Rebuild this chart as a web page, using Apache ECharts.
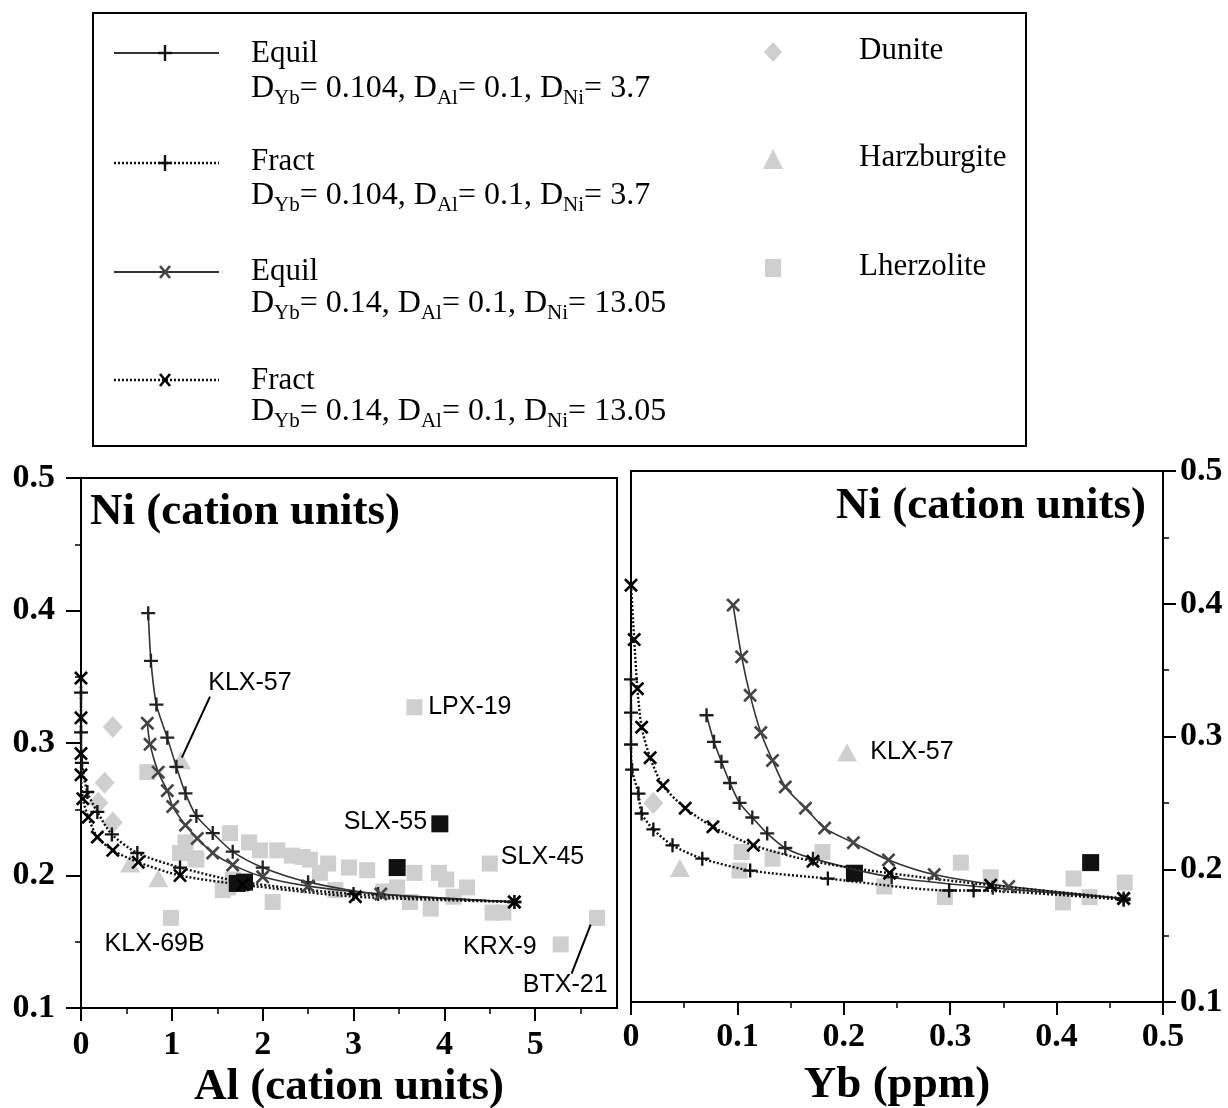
<!DOCTYPE html>
<html><head><meta charset="utf-8">
<script src="https://cdn.jsdelivr.net/npm/echarts@6/dist/echarts.min.js"></script>
<style>html,body{margin:0;padding:0;background:#fff}#c{width:1228px;height:1108px}</style>
</head><body><div id="c"></div>
<script>
// ---------------- DATA ----------------
const alTicks = [0, 1, 2, 3, 4, 5];
const ybTicks = [0, 0.1, 0.2, 0.3, 0.4, 0.5];
const niTicks = [0.1, 0.2, 0.3, 0.4, 0.5];

// Left panel: Al (cation units) vs Ni (cation units) model curves
const alEquilPlus = [[0.74,0.398],[0.77,0.362],[0.83,0.329],[0.95,0.304],[1.05,0.282],[1.15,0.262],[1.27,0.245],[1.45,0.232],[1.67,0.218],[2.0,0.206],[2.5,0.195],[3.27,0.186],[4.77,0.180]];
const alEquilCross = [[0.73,0.315],[0.76,0.299],[0.85,0.278],[0.95,0.264],[1.01,0.252],[1.15,0.238],[1.28,0.228],[1.45,0.217],[1.67,0.208],[2.0,0.199],[2.5,0.192],[3.3,0.186],[4.77,0.180]];
const alFractPlus = [[0.0,0.338],[0.0,0.308],[0.01,0.285],[0.07,0.263],[0.18,0.248],[0.34,0.231],[0.62,0.217],[1.09,0.206],[1.78,0.195],[3.0,0.186],[4.77,0.180]];
const alFractCross = [[0.0,0.349],[0.0,0.319],[0.0,0.292],[0.0,0.276],[0.02,0.258],[0.08,0.244],[0.18,0.229],[0.35,0.219],[0.63,0.210],[1.09,0.200],[1.78,0.193],[3.02,0.184],[4.77,0.180]];

// Right panel: Yb (ppm) vs Ni model curves
const ybEquilPlus = [[0.071,0.316],[0.078,0.296],[0.085,0.281],[0.093,0.265],[0.102,0.250],[0.114,0.239],[0.128,0.227],[0.145,0.216],[0.171,0.208],[0.245,0.194],[0.34,0.186],[0.463,0.178]];
const ybEquilCross = [[0.096,0.399],[0.104,0.360],[0.112,0.331],[0.122,0.303],[0.133,0.282],[0.145,0.262],[0.164,0.246],[0.182,0.231],[0.209,0.220],[0.242,0.207],[0.285,0.196],[0.355,0.187],[0.463,0.178]];
const ybFractPlus = [[0.0,0.343],[0.0,0.318],[0.0,0.294],[0.001,0.275],[0.007,0.257],[0.010,0.242],[0.021,0.230],[0.039,0.218],[0.067,0.208],[0.112,0.199],[0.185,0.193],[0.299,0.184],[0.322,0.184],[0.463,0.177]];
const ybFractCross = [[0.0,0.414],[0.003,0.373],[0.006,0.336],[0.010,0.307],[0.018,0.284],[0.030,0.263],[0.051,0.246],[0.077,0.232],[0.115,0.218],[0.171,0.206],[0.243,0.197],[0.338,0.188],[0.463,0.178]];

// Samples, left panel
const alDunite = [[0.35,0.312],[0.26,0.270],[0.19,0.255],[0.35,0.240]];
const alHarzburgite = [[0.85,0.198],[0.54,0.209],[1.10,0.287]];
const alLherzolite = [[0.73,0.278],[1.15,0.225],[1.26,0.213],[1.09,0.217],[1.64,0.232],[1.67,0.197],[1.56,0.189],[2.11,0.180],[2.16,0.219],[2.44,0.214],[2.63,0.202],[1.85,0.225],[1.97,0.219],[2.32,0.215],[2.52,0.212],[2.72,0.209],[2.95,0.206],[3.15,0.204],[3.67,0.202],[3.94,0.202],[4.02,0.197],[4.25,0.191],[3.85,0.175],[3.62,0.180],[4.53,0.172],[4.65,0.172],[1.62,0.191],[1.27,0.212],[2.80,0.189],[3.33,0.188],[3.48,0.191],[4.10,0.184],[3.67,0.327],[4.50,0.209],[0.99,0.168],[5.28,0.148],[5.68,0.168]];
const alBlack = [[1.72,0.194],[1.80,0.195],[3.48,0.206],[3.95,0.239]];

// Samples, right panel
const ybDunite = [[0.021,0.250]];
const ybHarzburgite = [[0.046,0.201],[0.203,0.288]];
const ybLherzolite = [[0.104,0.213],[0.102,0.199],[0.133,0.208],[0.180,0.213],[0.310,0.205],[0.338,0.194],[0.416,0.193],[0.406,0.175],[0.431,0.179],[0.464,0.190],[0.238,0.187],[0.295,0.179]];
const ybBlack = [[0.210,0.197],[0.432,0.205]];

// Sample labels
const alLabels = [['KLX-57',1.86,0.345],['LPX-19',4.28,0.327],['SLX-55',3.35,0.240],['SLX-45',5.08,0.214],['KLX-69B',0.81,0.148],['KRX-9',4.61,0.146],['BTX-21',5.33,0.117]];
const alLeaders = [[[1.42,0.335],[1.11,0.289]],[[5.61,0.163],[5.40,0.126]]];
const ybLabels = [['KLX-57',0.264,0.288]];

// ---------------- STYLE ----------------
const SERIF = '"Liberation Serif","Times New Roman",serif';
const SANS = '"Liberation Sans",Arial,sans-serif';
const GRAY = '#cfcfcf';
const PLUS = 'path://M5,0h2v5h5v2h-5v5h-2v-5h-5v-2h5z';
const CROSS = 'path://M0,1.6L1.6,0L6,4.4L10.4,0L12,1.6L7.6,6L12,10.4L10.4,12L6,7.6L1.6,12L0,10.4L4.4,6Z';

function xAxisCfg(grid, max, interval, ticks, name, margin, gap) {
  return {
    gridIndex: grid, type: 'value', min: 0, max: max, interval: interval,
    axisLine: {show: true, onZero: false, lineStyle: {color: '#000', width: 2}},
    axisTick: {show: true, inside: false, length: 13, customValues: ticks, lineStyle: {color: '#000', width: 2}},
    minorTick: {show: true, splitNumber: 2, length: 6, lineStyle: {color: '#000', width: 1.5}},
    splitLine: {show: false},
    axisLabel: {margin: margin, customValues: ticks, fontFamily: SERIF, fontWeight: 'bold', fontSize: 34, color: '#000'},
    name: name, nameLocation: 'middle', nameGap: gap, nameMoveOverlap: false,
    nameTextStyle: {fontFamily: SERIF, fontWeight: 'bold', fontSize: 45, color: '#000'}
  };
}
function yAxisCfg(grid, pos, margin, tlen) {
  return {
    gridIndex: grid, type: 'value', min: 0.1, max: 0.5, interval: 0.1, position: pos,
    axisLine: {show: true, onZero: false, lineStyle: {color: '#000', width: 2}},
    axisTick: {show: true, inside: false, length: tlen, lineStyle: {color: '#000', width: 2}},
    minorTick: {show: true, splitNumber: 2, length: 6, lineStyle: {color: '#000', width: 1.5}},
    splitLine: {show: false},
    axisLabel: {margin: margin, fontFamily: SERIF, fontWeight: 'bold', fontSize: 34, color: '#000',
      formatter: v => v.toFixed(1)}
  };
}

function lineSeries(g, data, symbol, dotted, color) {
  return {
    type: 'line', xAxisIndex: g, yAxisIndex: g, data: data,
    symbol: symbol, symbolSize: 14, showAllSymbol: true, smooth: 0.25,
    itemStyle: {color: color, opacity: 1},
    lineStyle: dotted ? {color: '#111', width: 2.4, type: [2, 2]} : {color: '#333', width: 1.6},
    z: 5, silent: true, animation: false
  };
}
function scatterSeries(g, data, symbol, size, color, z) {
  return {type: 'scatter', xAxisIndex: g, yAxisIndex: g, data: data, symbol: symbol, symbolSize: size,
    itemStyle: {color: color, opacity: 1}, z: z, silent: true};
}
function labelSeries(g, labels) {
  return {type: 'scatter', xAxisIndex: g, yAxisIndex: g, symbol: 'circle', symbolSize: 2, z: 8, silent: true,
    itemStyle: {color: 'rgba(0,0,0,0)'},
    data: labels.map(l => ({value: [l[1], l[2]], name: l[0]})),
    label: {show: true, position: 'inside', formatter: p => p.name, fontFamily: SANS, fontSize: 25, color: '#000', opacity: 1}};
}

// ---------------- LEGEND (graphic) ----------------
const G = [];
G.push({type: 'rect', shape: {x: 93, y: 13, width: 933, height: 433}, style: {fill: '#fff', stroke: '#000', lineWidth: 2}, z: 1});
function legLine(y, dotted) {
  G.push({type: 'line', shape: {x1: 114, y1: y, x2: 219, y2: y}, style: {stroke: dotted ? '#111' : '#333', lineWidth: dotted ? 2.4 : 1.8, lineDash: dotted ? [2, 2] : null}, z: 2});
}
function legPlus(y) {
  G.push({type: 'line', shape: {x1: 158, y1: y, x2: 172, y2: y}, style: {stroke: '#111', lineWidth: 2.4}, z: 3});
  G.push({type: 'line', shape: {x1: 165, y1: y - 8, x2: 165, y2: y + 8}, style: {stroke: '#111', lineWidth: 2.4}, z: 3});
}
function legCross(y, color) {
  G.push({type: 'line', shape: {x1: 160, y1: y - 6, x2: 170, y2: y + 6}, style: {stroke: color, lineWidth: 2.6}, z: 3});
  G.push({type: 'line', shape: {x1: 170, y1: y - 6, x2: 160, y2: y + 6}, style: {stroke: color, lineWidth: 2.6}, z: 3});
}
function legText(x, y, txt, rich) {
  const el = {type: 'text', x: x, y: y, z: 3, style: {text: txt, fill: '#000', font: '31px ' + SERIF,
    textVerticalAlign: 'middle', verticalAlign: 'middle', textAlign: 'left', align: 'left'}};
  if (rich) el.style.rich = rich;
  G.push(el);
}
const RICH = {
  m: {fontFamily: SERIF, fontSize: 32, lineHeight: 40, color: '#000'},
  s: {fontFamily: SERIF, fontSize: 21, lineHeight: 18, verticalAlign: 'bottom', color: '#000'}
};
function dLine(dyb, dal, dni) {
  return '{m|D}{s|Yb}{m|= ' + dyb + ', D}{s|Al}{m|= ' + dal + ', D}{s|Ni}{m|= ' + dni + '}';
}
const legendRows = [
  {y: 54, dy: 89, ly: 53, title: 'Equil', dotted: false, mark: 'plus', d: ['0.104', '0.1', '3.7']},
  {y: 162, dy: 196, ly: 163, title: 'Fract', dotted: true, mark: 'plus', d: ['0.104', '0.1', '3.7']},
  {y: 272, dy: 304, ly: 272, title: 'Equil', dotted: false, mark: 'cross', d: ['0.14', '0.1', '13.05']},
  {y: 381, dy: 412, ly: 380, title: 'Fract', dotted: true, mark: 'cross', d: ['0.14', '0.1', '13.05']}
];
legendRows.forEach(r => {
  legLine(r.ly, r.dotted);
  if (r.mark === 'plus') legPlus(r.ly); else legCross(r.ly, r.dotted ? '#000' : '#444');
  legText(251, r.y, r.title);
  legText(251, r.dy, dLine(r.d[0], r.d[1], r.d[2]), RICH);
});
G.push({type: 'polygon', shape: {points: [[773, 42], [782, 52], [773, 62], [764, 52]]}, style: {fill: GRAY}, z: 3});
G.push({type: 'polygon', shape: {points: [[773, 149], [783, 169], [763, 169]]}, style: {fill: GRAY}, z: 3});
G.push({type: 'rect', shape: {x: 765, y: 259, width: 16, height: 18}, style: {fill: GRAY}, z: 3});
legText(859, 51, 'Dunite');
legText(859, 158, 'Harzburgite');
legText(859, 267, 'Lherzolite');

// Panel titles
G.push({type: 'text', x: 90, y: 512, z: 10, style: {text: 'Ni (cation units)', font: 'bold 45px ' + SERIF, fill: '#000',
  textVerticalAlign: 'middle', verticalAlign: 'middle', textAlign: 'left', align: 'left'}});
G.push({type: 'text', x: 1146, y: 506, z: 10, style: {text: 'Ni (cation units)', font: 'bold 45px ' + SERIF, fill: '#000',
  textVerticalAlign: 'middle', verticalAlign: 'middle', textAlign: 'right', align: 'right'}});

// ---------------- OPTION ----------------
const option = {
  backgroundColor: '#fff',
  animation: false,
  graphic: {elements: G},
  grid: [
    {left: 81, top: 478, width: 536, height: 530, show: true, borderColor: '#000', borderWidth: 2, backgroundColor: 'transparent', outerBoundsMode: 'none', containLabel: false},
    {left: 631, top: 471, width: 532, height: 531, show: true, borderColor: '#000', borderWidth: 2, backgroundColor: 'transparent', outerBoundsMode: 'none', containLabel: false}
  ],
  xAxis: [
    xAxisCfg(0, 5.9, 1, alTicks, 'Al (cation units)', 20, 57),
    xAxisCfg(1, 0.5, 0.1, ybTicks, 'Yb (ppm)', 18, 61)
  ],
  yAxis: [
    yAxisCfg(0, 'left', 26, 15),
    yAxisCfg(1, 'right', 17, 13)
  ],
  series: [
    scatterSeries(0, alLherzolite, 'rect', 16, GRAY, 1),
    scatterSeries(0, alDunite, 'diamond', [20, 22], GRAY, 1),
    scatterSeries(0, alHarzburgite, 'triangle', [20, 18], GRAY, 1),
    scatterSeries(0, alBlack, 'rect', 17, '#111', 2),
    lineSeries(0, alEquilPlus, PLUS, false, '#222'),
    lineSeries(0, alEquilCross, CROSS, false, '#444'),
    lineSeries(0, alFractPlus, PLUS, true, '#111'),
    lineSeries(0, alFractCross, CROSS, true, '#000'),
    labelSeries(0, alLabels),
    {type: 'line', xAxisIndex: 0, yAxisIndex: 0, data: [], silent: true,
      markLine: {silent: true, symbol: 'none', animation: false, label: {show: false},
        lineStyle: {color: '#000', width: 2, type: 'solid'},
        data: alLeaders.map(s => [{coord: s[0]}, {coord: s[1]}])}},

    scatterSeries(1, ybLherzolite, 'rect', 16, GRAY, 1),
    scatterSeries(1, ybDunite, 'diamond', [20, 22], GRAY, 1),
    scatterSeries(1, ybHarzburgite, 'triangle', [20, 18], GRAY, 1),
    scatterSeries(1, ybBlack, 'rect', 17, '#111', 2),
    lineSeries(1, ybEquilPlus, PLUS, false, '#222'),
    lineSeries(1, ybEquilCross, CROSS, false, '#444'),
    lineSeries(1, ybFractPlus, PLUS, true, '#111'),
    lineSeries(1, ybFractCross, CROSS, true, '#000'),
    labelSeries(1, ybLabels)
  ]
};
const chart = echarts.init(document.getElementById('c'), null, {renderer: 'canvas'});
chart.setOption(option);
</script></body></html>
